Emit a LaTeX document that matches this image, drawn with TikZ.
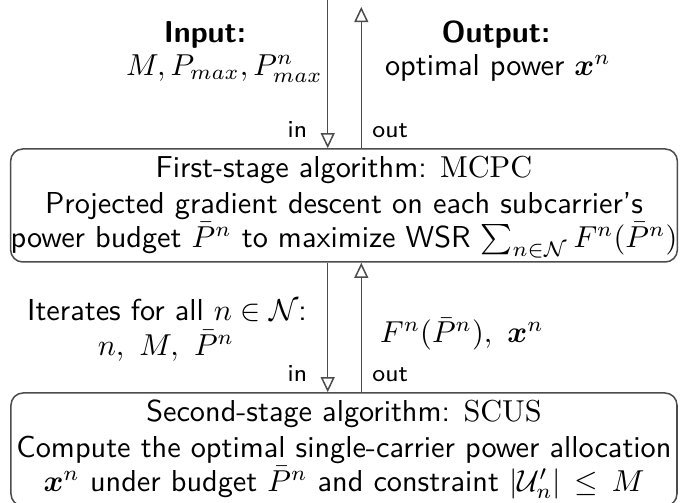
\documentclass[tikz,border=0pt]{standalone}
\usepackage{amsmath,amssymb,bm}
\renewcommand{\familydefault}{\sfdefault}
\usetikzlibrary{arrows.meta, positioning}

\begin{document}
\begin{tikzpicture}[>={Triangle[open,length=5pt,width=4.6pt]},line width=0.5pt,
  stage node/.style={draw=black!70,rounded corners=4pt,minimum width=7.733cm,
    minimum height=1.312cm,align=center,inner sep=0pt,text height=32.4pt,text depth=4.9pt},
  flow/.style={draw=black!70,->},
  tag node/.style={font=\footnotesize,inner sep=0pt},
  text node/.style={anchor=base,inner sep=0pt}]
  \useasboundingbox (0,0) rectangle (8,-5.84);
  \node[stage node] (mcpc) at (3.994,-2.386) {First-stage algorithm: $\mathrm{MCPC}$\\[-0.2pt]
    Projected gradient descent on each subcarrier's\\[-0.8pt]
    power budget $\bar{P}^n$ to maximize WSR $\sum_{n\in\mathcal{N}}F^n(\bar{P}^n)$};
  \node[stage node] (scus) at (3.994,-5.219) {Second-stage algorithm: $\mathrm{SCUS}$\\[-0.2pt]
    Compute the optimal single-carrier power allocation\\[-0.8pt]
    $\bm{x}^n$ under budget $\bar{P}^n$ and constraint $|\mathcal{U}_n'|\,\leq\,M$};
  % input / output of the first stage
  \coordinate (in1) at (3.805,0);
  \coordinate (out1) at (4.195,-0.08);
  \draw[flow] (in1) -- (mcpc.north -| in1);
  \draw[flow] (mcpc.north -| out1) -- (out1);
  \node[tag node,anchor=base east,xshift=-2.3mm,yshift=1.2mm] (intag1) at (mcpc.north -| in1) {in};
  \node[tag node,anchor=base west,xshift=1.2mm,yshift=1.2mm] (outtag1) at (mcpc.north -| out1) {out};
  \node[text node] (inputtitle) at (2.38,-0.488) {\textbf{Input:}};
  \node[text node] (inputvals) at (2.606,-0.871) {$M, P_{max}, P_{max}^n$};
  \node[text node] (outputtitle) at (5.759,-0.488) {\textbf{Output:}};
  \node[text node] (outputvals) at (5.782,-0.882) {optimal power $\bm{x}^n$};
  % iterations between the two stages
  \coordinate (in2) at (3.805,0);
  \coordinate (out2) at (4.195,0);
  \draw[flow] (mcpc.south -| in2) -- (scus.north -| in2);
  \draw[flow] (scus.north -| out2) -- (mcpc.south -| out2);
  \node[tag node,anchor=base east,xshift=-2.3mm,yshift=1.2mm] (intag2) at (scus.north -| in2) {in};
  \node[tag node,anchor=base west,xshift=1.2mm,yshift=1.2mm] (outtag2) at (scus.north -| out2) {out};
  \node[text node] (iterfor) at (1.939,-3.716) {Iterates for all $n\in\mathcal{N}$:};
  \node[text node] (iterargs) at (1.927,-4.122) {$n,\ M,\ \bar{P}^n$};
  \node[text node] (fback) at (5.364,-3.98) {$F^n(\bar{P}^n),\ \bm{x}^n$};
\end{tikzpicture}
\end{document}
